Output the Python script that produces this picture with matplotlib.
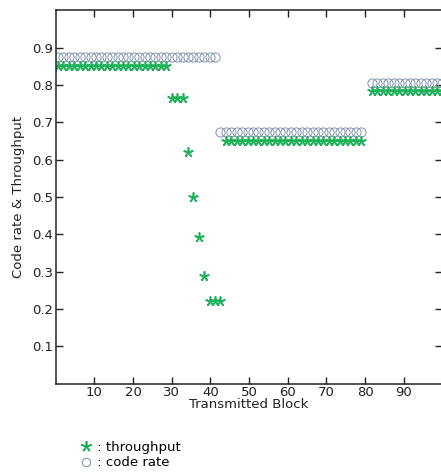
import numpy as np
import matplotlib
matplotlib.use("Agg")
import matplotlib.pyplot as plt
from matplotlib.lines import Line2D

# transmission index -> block position (blocks are spaced 1.4 apart, starting at 0.6)
block_start = 0.6
block_step = 1.4

# code rate per transmission index (index: value)
code_rate_idx = list(range(0, 57)) + list(range(58, 72))
code_rate_val = [0.875] * 30 + [0.675] * 27 + [0.805] * 14

# throughput per transmission index
thr_idx = list(range(0, 31)) + list(range(31, 57)) + list(range(58, 72))
thr_val = ([0.85] * 21 + [0.765, 0.765, 0.765, 0.62, 0.50, 0.393, 0.287,
                          0.222, 0.222, 0.222]
           + [0.65] * 26 + [0.785] * 14)

x_ticks = [10, 20, 30, 40, 50, 60, 70, 80, 90]
y_ticks = [0.1, 0.2, 0.3, 0.4, 0.5, 0.6, 0.7, 0.8, 0.9]

x_cr = block_start + block_step * np.array(code_rate_idx)
x_th = block_start + block_step * np.array(thr_idx)

green = "#1fb05a"
circ = "#8493b0"
asterisk = (5, 2, 0)

fig = plt.figure(figsize=(4.41, 4.72), dpi=100)
ax = fig.add_axes([0.1263, 0.1875, 0.8770, 0.7905])

ax.plot(x_cr, code_rate_val, linestyle="none", marker="o", markersize=6.6,
        markerfacecolor="none", markeredgecolor=circ, markeredgewidth=0.7)
ax.plot(x_th, thr_val, linestyle="none", marker=asterisk, markersize=7.2,
        color=green, markeredgewidth=1.2)

ax.set_xlim(0, 100)
ax.set_ylim(0, 1)
ax.set_xticks(x_ticks)
ax.set_yticks(y_ticks)
ax.set_yticklabels([f"{v:.1f}" for v in y_ticks])
ax.tick_params(direction="in", top=True, right=True, length=5, width=1,
               labelsize=9.5, pad=2, colors="#222222")
for s in ax.spines.values():
    s.set_linewidth(1.1)
    s.set_color("#222222")

ax.set_xlabel("Transmitted Block", fontsize=9.5, labelpad=-1, color="#222222")
ax.set_ylabel("Code rate & Throughput", fontsize=9.5, labelpad=5, color="#222222")

handles = [
    Line2D([], [], linestyle="none", marker=asterisk, markersize=8,
           color=green, markeredgewidth=1.2),
    Line2D([], [], linestyle="none", marker="o", markersize=6,
           markerfacecolor="none", markeredgecolor=circ, markeredgewidth=0.8),
]
fig.legend(handles, [" : throughput", " : code rate"], loc="upper left",
           bbox_to_anchor=(0.185, 0.066), frameon=False, fontsize=9.5,
           handlelength=0.6, handletextpad=0.3, labelspacing=0.2,
           borderpad=0, borderaxespad=0)

fig.savefig("out.png", dpi=100)
